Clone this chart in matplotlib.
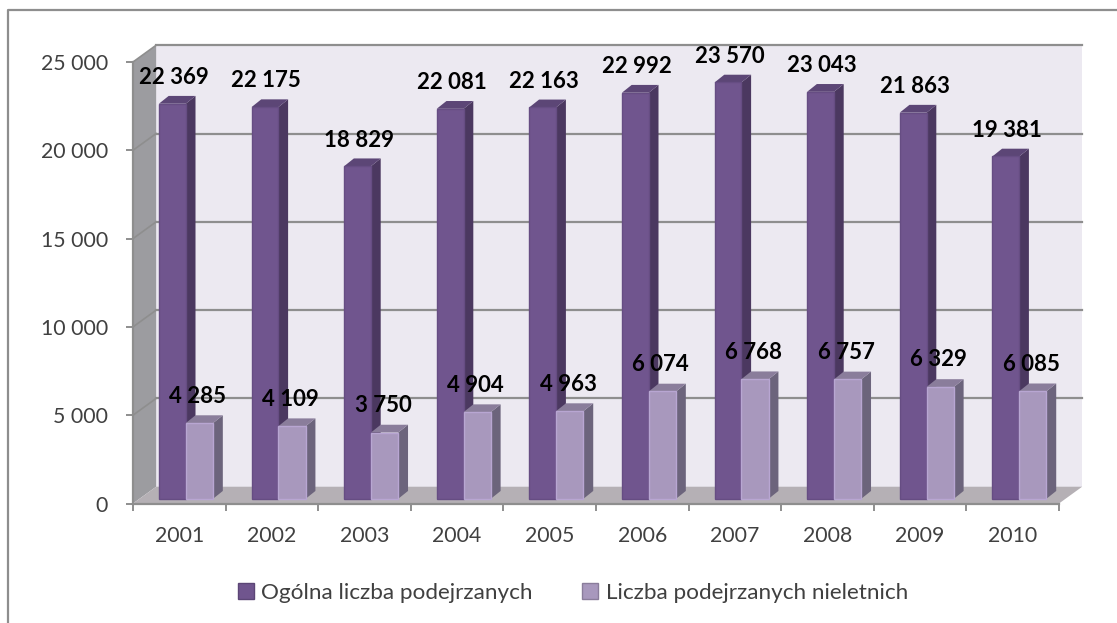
import matplotlib
matplotlib.use('Agg')
import matplotlib.pyplot as plt
from matplotlib.patches import Polygon, Patch

plt.rcParams['font.family'] = ['Lato', 'DejaVu Sans']

years = ['2001', '2002', '2003', '2004', '2005', '2006', '2007', '2008', '2009', '2010']
ogolna = [22369, 22175, 18829, 22081, 22163, 22992, 23570, 23043, 21863, 19381]
nieletni = [4285, 4109, 3750, 4904, 4963, 6074, 6768, 6757, 6329, 6085]
yticks = [0, 5000, 10000, 15000, 20000, 25000]
names = ['Ogólna liczba podejrzanych', 'Liczba podejrzanych nieletnich']

W, H = 1117, 623
GRAY = '#8e8e8e'

# glebokosc wykresu 3d (w jednostkach danych)
DX, DY = 0.25, 950
# glebokosc slupka
BX, BY = 0.105, 440
BASE = 270


def fmt(v):
    return '{:,}'.format(v).replace(',', ' ')


def poly(ax, pts, color, z, edge='none', lw=0):
    ax.add_patch(Polygon(pts, closed=True, facecolor=color, edgecolor=edge, linewidth=lw,
                         zorder=z, clip_on=False))


def bar3d(ax, x0, x1, val, front, side, top, edge, z):
    y0 = BASE
    y1 = BASE + val
    poly(ax, [(x1, y0), (x1 + BX, y0 + BY), (x1 + BX, y1 + BY), (x1, y1)], side, z)
    poly(ax, [(x0, y1), (x1, y1), (x1 + BX, y1 + BY), (x0 + BX, y1 + BY)], top, z)
    poly(ax, [(x0, y0), (x1, y0), (x1, y1), (x0, y1)], front, z + 0.1, edge, 1.0)


fig = plt.figure(figsize=(W / 100, H / 100), dpi=100, facecolor='white')
ax = fig.add_axes([133 / W, 1 - 503.5 / H, (1059 - 133) / W, (503.5 - 62) / H])
ax.set_xlim(0, 10)
ax.set_ylim(0, 25000)
ax.patch.set_visible(False)

# ramka wykresu
fig.add_artist(plt.Line2D([8 / W, 8 / W, 1], [0, 1 - 10 / H, 1 - 10 / H], color=GRAY, lw=1.6))

# sciany i podloga
poly(ax, [(DX, DY), (10 + DX, DY), (10 + DX, 25000 + DY), (DX, 25000 + DY)], '#ece9f1', 1)
poly(ax, [(0, 0), (DX, DY), (DX, 25000 + DY), (0, 25000)], '#9c9ca0', 1)
poly(ax, [(0, 0), (10, 0), (10 + DX, DY), (DX, DY)], '#b5b0b5', 1.5)

for t in yticks[1:]:
    ax.plot([DX, 10 + DX], [t + DY, t + DY], color=GRAY, lw=1.6, zorder=2, clip_on=False)
    ax.plot([0, DX], [t, t + DY], color=GRAY, lw=1.2, zorder=2, clip_on=False)

for i in range(len(years)):
    bar3d(ax, i + 0.28, i + 0.57, ogolna[i], '#70558e', '#4b3860', '#5c4676', '#664d83', 3 + i)
    bar3d(ax, i + 0.57, i + 0.865, nieletni[i], '#a898bd', '#6c647c', '#8a7d9b', '#b8a6d2', 3.5 + i)

for i in range(len(years)):
    ax.text(i + 0.44, ogolna[i] + 1750, fmt(ogolna[i]), ha='center', va='center',
            fontsize=16, fontweight='bold', color='black', zorder=20)
    ax.text(i + 0.70, nieletni[i] + 1800, fmt(nieletni[i]), ha='center', va='center',
            fontsize=16, fontweight='bold', color='black', zorder=20)

for s in ['top', 'right']:
    ax.spines[s].set_visible(False)
for s in ['left', 'bottom']:
    ax.spines[s].set_color(GRAY)
    ax.spines[s].set_linewidth(1.6)
    ax.spines[s].set_zorder(2.5)

ax.set_yticks(yticks)
ax.set_yticklabels([fmt(t) for t in yticks])
ax.set_xticks(range(11))
ax.set_xticklabels([])
ax.set_xticks([i + 0.5 for i in range(10)], labels=years, minor=True)
ax.tick_params(axis='y', length=5, width=1.4, color=GRAY, labelcolor='#404040', labelsize=15.3, pad=13)
ax.tick_params(axis='x', which='major', length=5, width=1.4, color=GRAY)
ax.tick_params(axis='x', which='minor', length=0, labelcolor='#404040', labelsize=15.3, pad=16)

handles = [Patch(facecolor='#70558e', edgecolor='#5c4676', label=names[0]),
           Patch(facecolor='#a898bd', edgecolor='#8a7d9b', label=names[1])]
fig.legend(handles=handles, loc='center', bbox_to_anchor=(573 / W, 1 - 593 / H), ncol=2, frameon=False,
           fontsize=16.2, labelcolor='#404040', handlelength=0.68, handleheight=0.68,
           handletextpad=0.35, columnspacing=2.2, borderpad=0)

fig.savefig('out.png', dpi=100)
